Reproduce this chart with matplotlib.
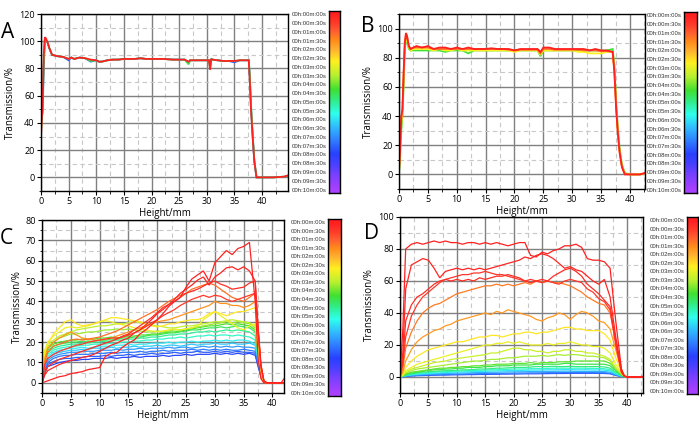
import numpy as np
import matplotlib
matplotlib.use('Agg')
import matplotlib.pyplot as plt
from matplotlib.colors import LinearSegmentedColormap, Normalize
from matplotlib.ticker import MultipleLocator

plt.rcParams['font.family'] = ['Open Sans', 'DejaVu Sans']

# ---------------- data ----------------
# colour-bar times (minutes)
cbar_times = [0, 0.5, 1, 1.5, 2, 2.5, 3, 3.5, 4, 4.5, 5, 5.5, 6, 6.5, 7, 7.5, 8, 8.5, 9, 9.5, 10]
cbar_labels = ['00h:00m:00s', '00h:00m:30s', '00h:01m:00s', '00h:01m:30s', '00h:02m:00s',
               '00h:02m:30s', '00h:03m:00s', '00h:03m:30s', '00h:04m:00s', '00h:04m:30s',
               '00h:05m:00s', '00h:05m:30s', '00h:06m:00s', '00h:06m:30s', '00h:07m:00s',
               '00h:07m:30s', '00h:08m:00s', '00h:08m:30s', '00h:09m:00s', '00h:09m:30s',
               '00h:10m:00s']

# Panel A
heights_A = [0, 0.3, 0.5, 0.7, 0.9, 1.2, 1.5, 2, 2.5, 3, 4, 5, 5.5, 6, 7, 8, 9, 10, 10.5, 11,
             12, 13, 14, 15, 16, 17, 18, 19, 20, 22, 24, 26, 26.7, 27, 28, 29, 30, 30.4, 30.6, 30.8,
             31, 32, 33, 34, 35, 36, 37, 37.6, 37.8, 38.0, 38.3, 38.6, 39.0, 40, 42, 44, 44.7]
times_A = [7.5, 4.5, 0.0]
trans_A = [
    [40, 48, 82, 100, 101, 99, 95, 90, 89.5, 89, 88.5, 86, 88, 87, 88, 87.5, 85, 86, 85, 85, 86, 86.5, 86.5, 87, 87, 87, 87.5, 87, 87, 87, 86.5, 86.5, 84, 86, 86, 86, 86, 86, 81, 87, 86.5, 86, 85.5, 85.5, 84.5, 86, 86, 86, 72, 52, 31, 12, 0, 0, 0, 0.5, 1],
    [33, 52, 85, 101, 101, 99, 95, 90, 89.5, 89, 88.5, 87, 88, 87, 88, 87.5, 85.5, 86, 85, 85, 86, 86.5, 86.5, 87, 87, 87, 87.5, 87, 87, 87, 86.5, 86.5, 83, 86, 86, 86, 86, 86, 80, 87, 86.5, 86, 85.5, 85.5, 85.5, 86, 86, 86, 74, 54, 33, 13, 0, 0, 0, 0.5, 1],
    [30, 55, 90, 103, 102, 99, 95, 90, 89.5, 89, 88.5, 87, 88, 87, 88, 87.5, 86.5, 86, 85, 85, 86, 86.5, 86.5, 87, 87, 87, 87.5, 87, 87, 87, 86.5, 86.5, 85, 86, 86, 86, 86, 86, 79, 87, 86.5, 86, 85.5, 85.5, 85.5, 86, 86, 86, 70, 50, 30, 12, 0, 0, 0, 0.5, 1.5],
]

# Panel B
heights_B = [0, 0.2, 0.4, 0.6, 0.8, 1.0, 1.2, 1.4, 1.7, 2, 2.5, 3, 4, 5, 6, 7, 8, 9, 10, 11,
             12, 13, 14, 15, 16, 17, 18, 19, 20, 21, 22, 23, 24, 24.5, 25, 26, 27, 28, 29, 30,
             31, 32, 33, 34, 35, 36, 37, 37.3, 37.6, 37.9, 38.2, 38.6, 39.1, 40, 41.7, 42.6]
times_B = [4.4, 2.7, 1.2, 0.0]
trans_B = [
    [1, 12, 30, 40, 60, 85, 92, 91, 86, 85, 85, 85, 85, 85, 85, 85, 84, 85, 85, 85, 83, 85, 85, 85, 85, 85, 85, 85, 85, 85, 85, 85, 85, 81, 85, 85, 85, 85, 85, 85, 85, 85, 85, 85, 85, 85, 86, 75, 50, 32, 18, 7, 1, 0, 0, 0.5],
    [2, 15, 35, 42, 65, 88, 94, 92, 87, 85, 86, 86, 86, 86, 85, 86, 85, 85, 86, 85, 85, 85, 85, 85, 85, 85, 85, 85, 84, 85, 85, 85, 85, 82, 85, 85, 85, 85, 85, 85, 84, 84, 83, 83, 83, 84, 84, 72, 48, 30, 16, 6, 0.5, 0, 0, 0.5],
    [2, 18, 38, 44, 68, 89, 96, 94, 88, 86, 87, 87, 87, 87, 86, 86, 86, 86, 86, 86, 86, 86, 86, 86, 86, 86, 86, 85.5, 85, 85.5, 85.5, 85.5, 85.5, 83, 86, 86, 85.5, 85.5, 85.5, 85.5, 85.5, 85, 85, 85, 84.5, 84.5, 84, 71, 47, 29, 16, 5.5, 0.3, 0, 0, 0.8],
    [3, 20, 40, 45, 70, 90, 97, 95, 88, 86, 87, 88, 87, 88, 86, 87, 87, 86, 87, 86, 87, 86, 86, 86, 86.5, 86, 86, 86, 85, 86, 86, 86, 86, 84, 87, 87, 86, 86, 86, 86, 86, 86, 85, 86, 85, 85, 84, 70, 45, 28, 15, 5, 0, 0, 0, 1],
]

# Panel C
heights_C = [0, 0.5, 1, 2, 3, 4, 5, 6, 7, 8, 9, 10, 11, 12, 13, 14, 15, 16, 17, 18, 19, 20,
             21, 22, 23, 24, 25, 26, 27, 28, 29, 30, 31, 32, 33, 34, 35, 36, 37,
             37.5, 38, 38.5, 39, 41.5, 42]
times_C = [7.9, 7.6, 7.3, 6.9, 6.3, 5.9, 5.4, 5.0, 4.6, 4.2, 3.7, 3.4, 2.9, 2.6, 1.6, 1.2, 0.5, 0.3, 0.15, 0.0]
trans_C = [
    [0, 5, 8, 9, 10, 10.5, 11, 11, 11.5, 11.5, 12, 12, 12, 12.5, 12, 12.5, 12.5, 13, 12.5, 13, 13, 13, 13.5, 13, 13.5, 13.5, 14, 13.5, 14, 14, 14, 14.5, 14, 14.5, 14, 14.5, 14, 14.5, 13.5, 8, 3, 0.5, 0, 0, 0],
    [0, 6, 9, 10.5, 11.5, 12, 12, 12.5, 12.5, 13, 13, 13, 13.5, 13, 13.5, 13.5, 14, 13.5, 14, 14, 14.5, 14, 14.5, 14.5, 15, 14.5, 15, 15, 15.5, 15, 15, 15.5, 15, 15.5, 15, 15.5, 15, 15, 14.5, 9, 3, 0.5, 0, 0, 0],
    [0, 7, 10, 12, 13, 13.5, 13.5, 14, 14, 14, 14.5, 14.5, 14.5, 15, 14.5, 15, 15, 15, 15.5, 15, 15.5, 15.5, 16, 15.5, 16, 16, 16, 16.5, 16, 16.5, 16, 16.5, 16, 16.5, 16, 16, 16.5, 16, 15.5, 10, 3.5, 0.5, 0, 0, 0],
    [0, 8, 11, 13, 14, 14.5, 15, 15, 15.5, 15.5, 15.5, 16, 16, 16, 16.5, 16, 16.5, 16.5, 17, 16.5, 17, 17, 17, 17.5, 17, 17.5, 17.5, 17, 17.5, 18, 17.5, 18, 17.5, 18, 17.5, 18, 17.5, 17.5, 17, 11, 4, 0.5, 0, 0, 0],
    [0, 9, 12, 14, 15, 15.5, 16, 16, 16.5, 16.5, 17, 17, 17, 17.5, 17, 17.5, 17.5, 18, 17.5, 18, 18, 18.5, 18, 18.5, 18.5, 18, 18.5, 19, 18.5, 19, 19, 19.5, 19, 19, 19.5, 19, 19, 19.5, 18.5, 12, 4, 0.5, 0, 0, 0],
    [0, 10, 13, 15, 16, 16.5, 17, 17, 17.5, 17, 17.5, 18, 18, 18, 18.5, 18.5, 19, 18.5, 19, 19, 19.5, 19.5, 19.5, 20, 19.5, 20, 20, 20.5, 20, 20.5, 20.5, 21, 20.5, 21, 20.5, 21, 21, 20.5, 19, 12, 4, 0.5, 0, 0, 0],
    [0, 11, 14, 16, 17, 17.5, 18, 18, 18.5, 18.5, 19, 19, 19, 19.5, 19.5, 20, 20, 20.5, 20.5, 21, 21, 21.5, 21.5, 22, 22, 22.5, 22, 22.5, 23, 23, 23.5, 23, 23.5, 23.5, 23, 23.5, 23, 22.5, 21, 13, 4, 0.5, 0, 0, 0],
    [0, 12, 15, 17, 18, 18.5, 19, 19, 19.5, 19.5, 20, 20, 20.5, 20.5, 21, 21, 21.5, 21.5, 22, 22, 22.5, 22.5, 23, 23.5, 23.5, 24, 24, 24.5, 25, 25, 25.5, 25, 25.5, 26, 25.5, 26, 25.5, 25, 23, 14, 5, 0.5, 0, 0, 0],
    [0, 13, 16, 18, 19, 19.5, 20, 20, 20.5, 20, 20.5, 21, 21, 21.5, 21.5, 22, 22, 22.5, 22.5, 23, 23.5, 23.5, 24, 24.5, 24.5, 25, 25.5, 26, 26, 26.5, 27, 27, 27.5, 27, 27.5, 28, 27.5, 27, 25, 15, 5, 0.5, 0, 0, 0],
    [0, 14, 17, 19, 20, 20.5, 21, 21, 21.5, 21, 21.5, 22, 22, 22.5, 22, 22.5, 23, 23, 23.5, 23.5, 24, 24, 24.5, 25, 25, 25.5, 26, 26.5, 27, 27.5, 28, 28, 28.5, 29, 28.5, 29, 28.5, 28, 26, 16, 5, 0.5, 0, 0, 0],
    [0, 15, 18, 20, 22, 23, 24, 24, 24.5, 25, 25, 25.5, 26, 26, 26.5, 26, 26.5, 26, 25.5, 25, 25, 25.5, 25, 25.5, 26, 26, 26.5, 27, 27.5, 28, 28.5, 29, 29.5, 30, 29.5, 30, 29.5, 29, 27, 16, 5, 0.5, 0, 0, 0],
    [0, 16, 19, 21, 23, 24, 25, 26, 26.5, 27, 27.5, 28, 28, 28.5, 29, 29, 29.5, 30, 29.5, 29, 28.5, 28, 27.5, 27, 27, 27.5, 28, 28, 28.5, 29, 29.5, 30, 30, 30.5, 31, 30.5, 30, 29.5, 28, 17, 5, 0.5, 0, 0, 0],
    [0, 16, 20, 23, 25, 27, 27.5, 27, 27.5, 28, 29, 30, 30.5, 30, 29, 28.5, 28, 27, 26.5, 26, 25.5, 25, 25.5, 26, 26.5, 26, 26.5, 27, 28, 31, 33, 35, 33, 31, 29, 27, 26, 28, 29, 17, 5, 0.5, 0, 0, 0],
    [0, 14, 19, 24, 27, 30, 31, 29, 28, 28.5, 29, 30, 31, 32, 32, 31.5, 31, 30.5, 30, 29, 28, 27.5, 28, 29, 29, 30, 30.5, 31, 31, 32, 34, 35, 34, 33, 34, 35, 35, 36, 37, 22, 7, 1, 0, 0, 0],
    [0, 12, 17, 20, 22, 23.5, 25, 23.5, 22, 21.5, 21, 21, 21.5, 22, 23, 24, 25, 26, 27, 28, 29, 30, 30.5, 31, 32, 33, 34, 35, 36, 37, 38, 40, 39, 39, 38, 38, 37, 38, 40, 25, 8, 1, 0, 0, 0],
    [0, 10, 15, 18, 19, 20, 21, 21.5, 21, 21.5, 22, 22.5, 23.5, 24.5, 25.5, 27, 28.5, 30, 31.5, 33, 34.5, 36, 38, 40, 41.5, 43, 44, 46, 47, 48, 49, 48, 46, 44, 42, 41, 40, 42, 44, 27, 9, 1, 0, 0, 0],
    [0, 9, 12, 14, 15.5, 16.5, 17.5, 18.5, 19, 20, 20.5, 21, 21.5, 22, 22, 22.5, 23.5, 24.5, 26, 27.5, 29.5, 31, 33, 34.5, 36, 38, 39.5, 41, 42, 43, 42, 43, 42.5, 41, 40, 41, 42, 43, 44, 26, 8, 1, 0, 0, 0],
    [0, 5, 8, 10, 11.5, 12.5, 13.5, 14.5, 15.5, 16.5, 17.5, 18.5, 19.5, 20.5, 21.5, 23, 24, 26, 28, 30, 32, 34.5, 37, 38.5, 40, 42, 44, 45, 46, 47.5, 49, 50, 48.5, 47.5, 46, 46.5, 47, 49, 50, 28, 9, 1, 0, 0, 0],
    [0, 4, 6, 7.5, 9, 10, 11, 11.5, 12.5, 13, 14, 15.5, 17, 18.5, 19.5, 21, 22, 24.5, 26, 28.5, 31, 34, 36, 38.5, 41, 44, 46, 48, 50.5, 52, 48, 52, 54, 56.5, 57, 55.5, 57, 55, 50, 25, 8, 1, 0, 0, 0],
    [0, 0.5, 1, 2, 3, 3.5, 4.5, 5, 5.5, 6.5, 7, 7.5, 13, 14.5, 15, 17.5, 19.5, 21, 24, 26, 28.5, 31, 34, 37.5, 40, 42, 47, 51, 53, 55, 50, 59, 62, 65, 63, 66, 67, 69, 40, 12, 2, 0, 0, 0, 2],
]

# Panel D
heights_D = [0, 0.5, 1, 2, 3, 4, 5, 6, 7, 8, 9, 10, 11, 12, 13, 14, 15, 16, 17, 18, 19, 20,
             21, 22, 23, 24, 25, 26, 27, 28, 29, 30, 31, 32, 33, 34, 35, 36, 37,
             38, 39, 39.5, 40, 42, 42.8]
times_D = [7.7, 7.2, 6.6, 6.0, 5.4, 4.9, 4.5, 4.1, 3.6, 3.3, 2.9, 2.6, 1.7, 1.3, 0.45, 0.3, 0.15, 0.0]
trans_D = [
    [0, 0.1, 0.4, 0.6, 0.8, 0.9, 1, 1.1, 1.2, 1.2, 1.3, 1.4, 1.4, 1.5, 1.5, 1.6, 1.6, 1.7, 1.7, 1.8, 1.8, 1.9, 1.9, 2, 2, 2, 2.1, 2.1, 2.2, 2.2, 2.2, 2.3, 2.3, 2.3, 2.3, 2.3, 2.3, 2.2, 2, 1, 0.3, 0.1, 0, 0, 0],
    [0, 0.2, 0.5, 0.8, 1, 1.2, 1.3, 1.4, 1.5, 1.6, 1.7, 1.8, 1.9, 2, 2, 2.1, 2.2, 2.2, 2.3, 2.3, 2.4, 2.4, 2.5, 2.5, 2.6, 2.6, 2.6, 2.7, 2.7, 2.7, 2.8, 2.8, 2.8, 2.8, 2.8, 2.8, 2.7, 2.7, 2.4, 1.2, 0.4, 0.1, 0, 0, 0],
    [0, 0.3, 0.7, 1.1, 1.4, 1.6, 1.8, 2, 2.1, 2.2, 2.3, 2.4, 2.5, 2.6, 2.7, 2.8, 2.9, 3, 3, 3.1, 3.2, 3.2, 3.3, 3.3, 3.4, 3.4, 3.5, 3.5, 3.5, 3.6, 3.6, 3.6, 3.5, 3.5, 3.5, 3.5, 3.4, 3.4, 3, 1.6, 0.5, 0.1, 0, 0, 0],
    [0, 0.3, 0.8, 1.4, 1.7, 2, 2.2, 2.4, 2.6, 2.8, 3, 3, 3.2, 3.3, 3.4, 3.5, 3.6, 3.7, 3.8, 3.9, 4, 4, 4.1, 4.2, 4.3, 4.3, 4.4, 4.5, 4.5, 4.5, 4.6, 4.6, 4.5, 4.5, 4.5, 4.4, 4.4, 4.3, 3.8, 2, 0.7, 0.2, 0, 0, 0],
    [0, 0.4, 1, 1.7, 2, 2.5, 2.7, 3, 3.2, 3.3, 3.5, 3.6, 3.8, 4, 4, 4.2, 4.3, 4.5, 4.5, 4.6, 4.8, 5, 5, 5, 5.2, 5.2, 5.3, 5.4, 5.5, 5.5, 5.5, 5.5, 5.5, 5.5, 5.4, 5.4, 5.3, 5.2, 4.5, 2.5, 0.8, 0.2, 0, 0, 0],
    [0, 0.5, 1.2, 2, 2.5, 3, 3.2, 3.5, 3.7, 4, 4, 4.2, 4.5, 4.5, 4.7, 5, 5, 5.2, 5.5, 5.5, 5.7, 6, 6, 6, 6.2, 6.5, 6.5, 6.5, 6.7, 6.5, 6.5, 6.7, 6.5, 6.5, 6.5, 6.5, 6.5, 6.3, 5.5, 3, 1, 0.3, 0, 0, 0],
    [0, 0.6, 1.5, 2.5, 3, 3.5, 4, 4.5, 4.5, 5, 5, 5.5, 5.5, 6, 6, 6, 6.5, 6.5, 7, 7, 7, 7.5, 7.5, 7.5, 7.5, 8, 8, 8, 8, 8, 8.5, 8.5, 8, 8, 8, 8, 8, 8, 7, 4, 1, 0.3, 0, 0, 0],
    [0, 0.8, 2, 3, 3.5, 4, 4.5, 5, 5.5, 5.5, 6, 6, 6.5, 6.5, 7, 7, 7.5, 7.5, 8, 8, 8, 8.5, 8.5, 8.5, 9, 8.5, 9, 9, 9, 9.5, 9.5, 9.5, 10, 10, 10, 10, 10, 10, 8.5, 5, 1.5, 0.3, 0, 0, 0],
    [0, 1, 2.5, 4, 5, 5.5, 6, 6.5, 7, 7.5, 8, 8.5, 9, 9.5, 10, 10, 10.5, 11, 11, 11.5, 12, 12, 12.5, 13, 13, 13, 13.5, 13, 13.5, 14, 13.5, 14, 14, 13.5, 13, 13, 12.5, 12, 10, 5.5, 2, 0.5, 0, 0, 0],
    [0, 1, 3, 5, 6, 7, 8, 9, 9.5, 10, 11, 11.5, 12, 12.5, 13, 13.5, 14, 15, 15, 16, 17, 18, 18, 17, 17, 16, 16, 15, 16, 16, 17, 17, 16, 16, 15, 15, 14, 13, 11, 6, 2, 0.5, 0, 0, 0],
    [0, 1.5, 4, 6, 8, 9, 10, 11, 12, 13, 14, 15, 16, 17, 18, 19, 20, 20, 21, 21, 22, 21, 22, 21, 20, 20, 20, 21, 20, 21, 21, 22, 21, 20, 20, 19, 19, 18, 15, 8, 2.5, 1, 0, 0, 0],
    [0, 2, 6, 10, 13, 15, 17, 18, 19, 20, 21, 22, 22, 23, 24, 25, 25, 26, 26, 25, 26, 27, 27, 28, 28, 27, 28, 28, 29, 30, 31, 31, 30, 30, 29, 29, 29, 27, 23, 12, 3, 1, 0, 0, 0],
    [0, 3, 10, 17, 22, 25, 27, 29, 30, 32, 33, 35, 36, 37, 38, 39, 40, 39, 41, 40, 42, 41, 40, 39, 38, 36, 35, 37, 38, 40, 39, 36, 39, 41, 40, 38, 35, 34, 30, 17, 4, 1, 0, 0, 0],
    [0, 5, 18, 28, 35, 40, 43, 45, 46, 48, 50, 52, 53, 54, 55, 56, 57, 57, 58, 57, 58, 57, 58, 59, 58, 60, 59, 60, 59, 59, 58, 57, 55, 53, 50, 48, 46, 45, 40, 22, 5, 1, 0, 0, 0],
    [0, 8, 25, 38, 45, 50, 53, 56, 59, 61, 62, 63, 64, 64, 65, 65, 66, 65, 64, 64, 63, 62, 61, 60, 61, 60, 59, 60, 59, 58, 60, 61, 60, 59, 55, 53, 49, 47, 42, 20, 3, 0.5, 0, 0, 0],
    [0, 10, 35, 45, 50, 52, 55, 58, 60, 61, 60, 61, 60, 61, 60, 62, 61, 62, 63, 63, 64, 63, 62, 60, 59, 60, 61, 60, 63, 65, 67, 68, 66, 63, 58, 55, 52, 48, 44, 22, 3, 0.5, 0, 0, 0],
    [0, 15, 55, 70, 72, 74, 73, 68, 62, 66, 67, 68, 67, 68, 67, 68, 67, 68, 69, 70, 71, 72, 73, 75, 74, 76, 77, 76, 74, 71, 68, 69, 67, 66, 63, 60, 58, 61, 50, 25, 4, 0.5, 0, 0, 0],
    [0, 30, 80, 83, 84, 83, 84, 85, 84, 85, 84, 84, 83, 84, 84, 83, 84, 83, 84, 83, 82, 83, 84, 84, 76, 75, 78, 77, 79, 80, 82, 82, 83, 81, 74, 73, 73, 72, 68, 35, 5, 0.5, 0, 0, 0.5],
]

for h, tr, tm in [(heights_A, trans_A, times_A), (heights_B, trans_B, times_B),
                  (heights_C, trans_C, times_C), (heights_D, trans_D, times_D)]:
    assert len(tr) == len(tm), (len(tr), len(tm))
    for i, c in enumerate(tr):
        assert len(c) == len(h), (len(h), i, len(c))

# ---------------- style ----------------
cmap = LinearSegmentedColormap.from_list('rb', [
    (0.00, '#ff2020'), (0.05, '#ff3a2a'), (0.10, '#ff6030'), (0.15, '#ff8c1a'),
    (0.20, '#ffb030'), (0.27, '#fff020'), (0.35, '#b8f030'), (0.43, '#40e030'),
    (0.50, '#30ee90'), (0.57, '#30ffee'), (0.65, '#30b8ff'), (0.72, '#3080ff'),
    (0.80, '#2840ff'), (0.86, '#4a40ff'), (0.92, '#7a40ff'), (1.00, '#a840ff')])
norm = Normalize(0, 10)

W, H = 699, 429
fig = plt.figure(figsize=(W / 100, H / 100), dpi=100)


def rect(l, t, r, b):
    return [l / W, 1 - b / H, (r - l) / W, (b - t) / H]


def setup(ax, xlim, ylim, ymaj, ymin):
    ax.set_xlim(*xlim)
    ax.set_ylim(*ylim)
    ax.xaxis.set_major_locator(MultipleLocator(5))
    ax.xaxis.set_minor_locator(MultipleLocator(2.5))
    ax.yaxis.set_major_locator(MultipleLocator(ymaj))
    ax.yaxis.set_minor_locator(MultipleLocator(ymin))
    ax.grid(which='major', color='#808080', lw=1.0, ls='-')
    ax.grid(which='minor', color='#c8c8c8', lw=0.8, ls=(0, (4, 3)))
    ax.set_axisbelow(True)
    ax.tick_params(which='major', direction='out', length=3, width=0.8,
                   labelsize=6.5, pad=1.5, colors='black')
    ax.tick_params(which='minor', direction='out', length=1.8, width=0.6)
    for s in ax.spines.values():
        s.set_linewidth(1.0)
        s.set_color('black')
    ax.set_xlabel('Height/mm', fontsize=7, labelpad=1)
    ax.set_ylabel('Transmission/%', fontsize=7, labelpad=2)


def cbar(r):
    cax = fig.add_axes(r)
    grad = np.linspace(-0.2, 10.2, 400).reshape(-1, 1)
    cax.imshow(grad, aspect='auto', cmap=cmap, norm=norm, extent=[0, 1, 10.2, -0.2])
    cax.set_ylim(10.2, -0.2)
    cax.set_xticks([])
    cax.set_yticks(cbar_times)
    cax.set_yticklabels(cbar_labels)
    cax.yaxis.tick_left()
    cax.tick_params(axis='y', length=0, pad=2, labelsize=4.3, labelcolor='#333333')
    for lab in cax.get_yticklabels():
        lab.set_family(['Liberation Sans', 'DejaVu Sans'])
    for s in cax.spines.values():
        s.set_linewidth(1.0)
        s.set_color('black')


panels = [
    ('A', rect(41, 14, 288, 191), (0, 44.7), (-10, 120), 20, 10, heights_A, trans_A, times_A, 1.3,
     rect(329, 11, 340, 193), (8, 32)),
    ('B', rect(399, 14, 645, 189), (0, 42.6), (-10, 110), 20, 10, heights_B, trans_B, times_B, 1.3,
     rect(684, 12, 697, 193), (368, 27)),
    ('C', rect(42, 220, 284, 393), (0, 42), (-5, 80), 10, 5, heights_C, trans_C, times_C, 0.9,
     rect(328, 219, 341, 396), (6, 238)),
    ('D', rect(400, 217, 643, 393), (0, 42.8), (-10, 100), 20, 10, heights_D, trans_D, times_D, 0.9,
     rect(687, 217, 698, 394), (371, 233)),
]

for letter, r, xl, yl, ymaj, ymin, hts, trs, tms, lw, cr, lp in panels:
    ax = fig.add_axes(r)
    setup(ax, xl, yl, ymaj, ymin)
    for tm, tr in zip(tms, trs):
        ax.plot(hts, tr, color=cmap(norm(tm)), lw=lw, solid_joinstyle='miter')
    cbar(cr)
    fig.text(lp[0] / W, 1 - lp[1] / H, letter, fontsize=15, ha='center', va='center')

fig.savefig('out.png', dpi=100)
